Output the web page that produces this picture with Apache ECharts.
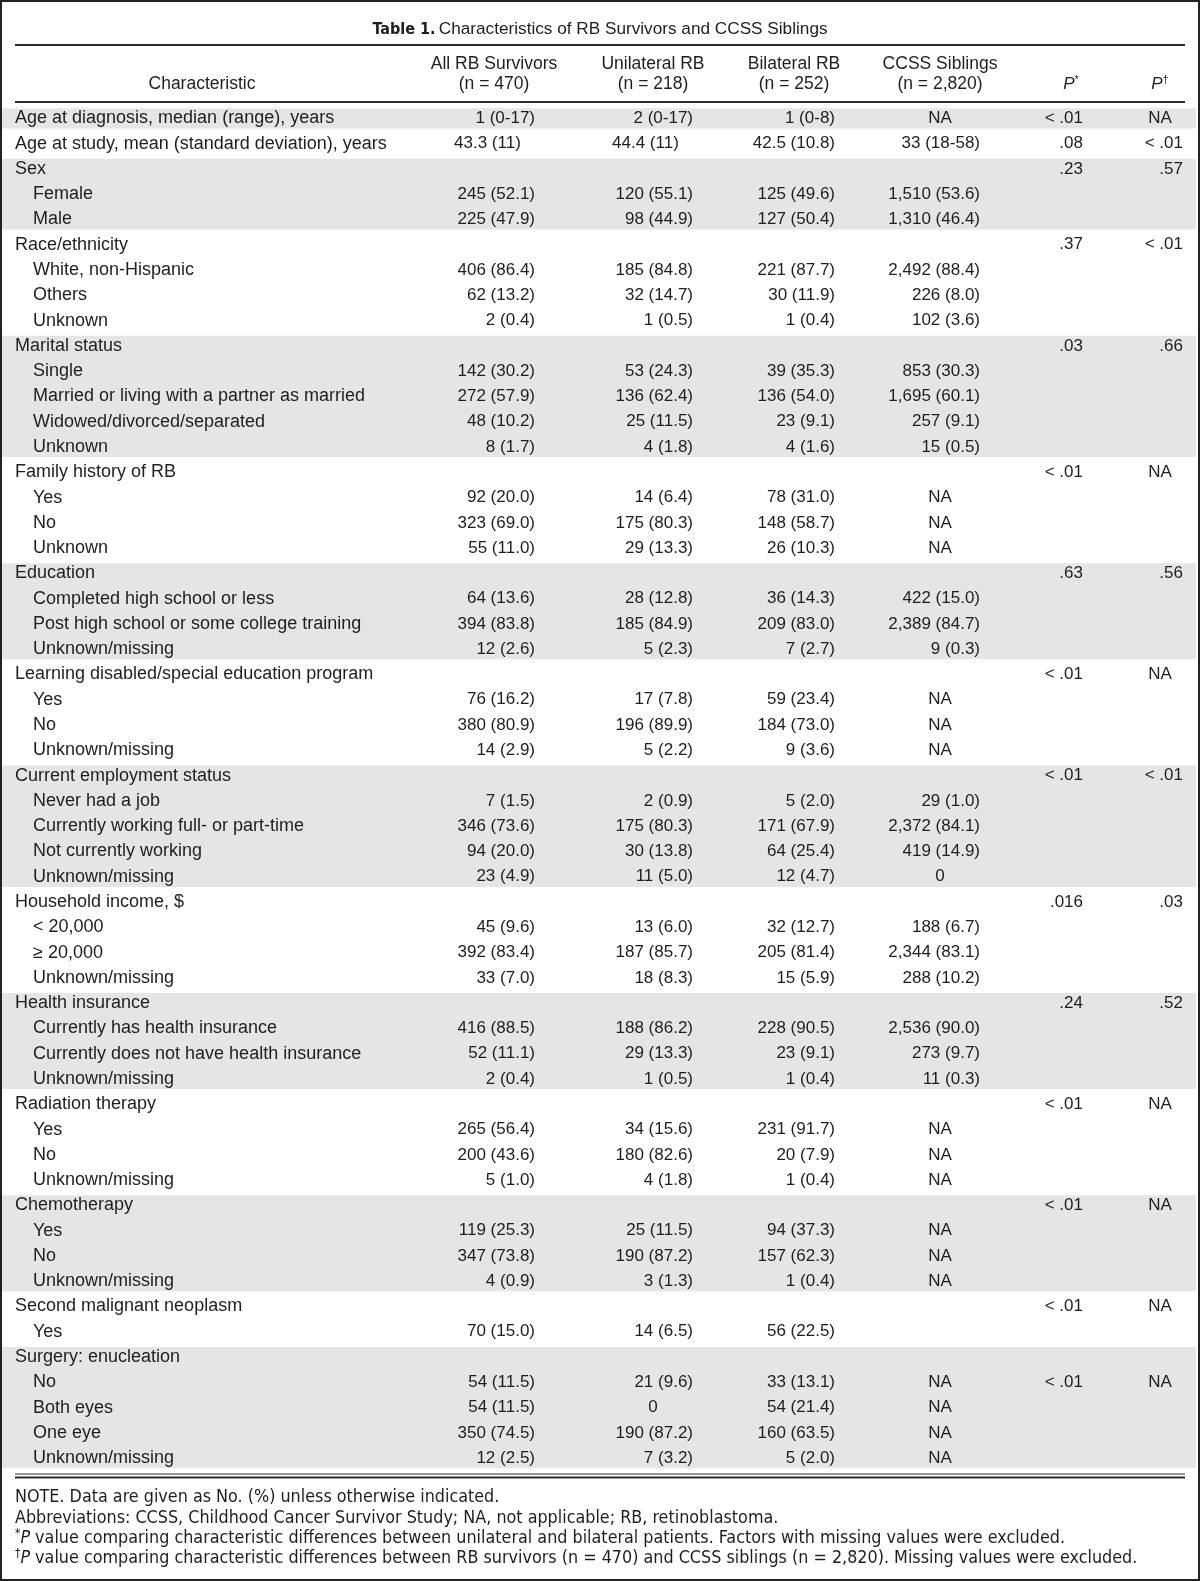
<!DOCTYPE html>
<html><head><meta charset="utf-8">
<script src="https://cdn.jsdelivr.net/npm/echarts@6/dist/echarts.min.js"></script>
<style>html,body{margin:0;padding:0;background:#fff}#chart{width:1200px;height:1581px}</style>
</head><body><div id="chart"></div>
<script>
// ---------------- DATA ----------------
const characteristics = [
"Age at diagnosis, median (range), years","Age at study, mean (standard deviation), years",
"Sex","Female","Male",
"Race/ethnicity","White, non-Hispanic","Others","Unknown",
"Marital status","Single","Married or living with a partner as married","Widowed/divorced/separated","Unknown",
"Family history of RB","Yes","No","Unknown",
"Education","Completed high school or less","Post high school or some college training","Unknown/missing",
"Learning disabled/special education program","Yes","No","Unknown/missing",
"Current employment status","Never had a job","Currently working full- or part-time","Not currently working","Unknown/missing",
"Household income, $","< 20,000","\u2265 20,000","Unknown/missing",
"Health insurance","Currently has health insurance","Currently does not have health insurance","Unknown/missing",
"Radiation therapy","Yes","No","Unknown/missing",
"Chemotherapy","Yes","No","Unknown/missing",
"Second malignant neoplasm","Yes",
"Surgery: enucleation","No","Both eyes","One eye","Unknown/missing"];
const rowLevel = [0,0, 0,1,1, 0,1,1,1, 0,1,1,1,1, 0,1,1,1, 0,1,1,1, 0,1,1,1, 0,1,1,1,1, 0,1,1,1, 0,1,1,1, 0,1,1,1, 0,1,1,1, 0,1, 0,1,1,1,1];
const allRB = ["1 (0-17)","43.3 (11)","","245 (52.1)","225 (47.9)","","406 (86.4)","62 (13.2)","2 (0.4)","","142 (30.2)","272 (57.9)","48 (10.2)","8 (1.7)","","92 (20.0)","323 (69.0)","55 (11.0)","","64 (13.6)","394 (83.8)","12 (2.6)","","76 (16.2)","380 (80.9)","14 (2.9)","","7 (1.5)","346 (73.6)","94 (20.0)","23 (4.9)","","45 (9.6)","392 (83.4)","33 (7.0)","","416 (88.5)","52 (11.1)","2 (0.4)","","265 (56.4)","200 (43.6)","5 (1.0)","","119 (25.3)","347 (73.8)","4 (0.9)","","70 (15.0)","","54 (11.5)","54 (11.5)","350 (74.5)","12 (2.5)"];
const unilateralRB = ["2 (0-17)","44.4 (11)","","120 (55.1)","98 (44.9)","","185 (84.8)","32 (14.7)","1 (0.5)","","53 (24.3)","136 (62.4)","25 (11.5)","4 (1.8)","","14 (6.4)","175 (80.3)","29 (13.3)","","28 (12.8)","185 (84.9)","5 (2.3)","","17 (7.8)","196 (89.9)","5 (2.2)","","2 (0.9)","175 (80.3)","30 (13.8)","11 (5.0)","","13 (6.0)","187 (85.7)","18 (8.3)","","188 (86.2)","29 (13.3)","1 (0.5)","","34 (15.6)","180 (82.6)","4 (1.8)","","25 (11.5)","190 (87.2)","3 (1.3)","","14 (6.5)","","21 (9.6)","0","190 (87.2)","7 (3.2)"];
const bilateralRB = ["1 (0-8)","42.5 (10.8)","","125 (49.6)","127 (50.4)","","221 (87.7)","30 (11.9)","1 (0.4)","","39 (35.3)","136 (54.0)","23 (9.1)","4 (1.6)","","78 (31.0)","148 (58.7)","26 (10.3)","","36 (14.3)","209 (83.0)","7 (2.7)","","59 (23.4)","184 (73.0)","9 (3.6)","","5 (2.0)","171 (67.9)","64 (25.4)","12 (4.7)","","32 (12.7)","205 (81.4)","15 (5.9)","","228 (90.5)","23 (9.1)","1 (0.4)","","231 (91.7)","20 (7.9)","1 (0.4)","","94 (37.3)","157 (62.3)","1 (0.4)","","56 (22.5)","","33 (13.1)","54 (21.4)","160 (63.5)","5 (2.0)"];
const ccssSiblings = ["NA","33 (18-58)","","1,510 (53.6)","1,310 (46.4)","","2,492 (88.4)","226 (8.0)","102 (3.6)","","853 (30.3)","1,695 (60.1)","257 (9.1)","15 (0.5)","","NA","NA","NA","","422 (15.0)","2,389 (84.7)","9 (0.3)","","NA","NA","NA","","29 (1.0)","2,372 (84.1)","419 (14.9)","0","","188 (6.7)","2,344 (83.1)","288 (10.2)","","2,536 (90.0)","273 (9.7)","11 (0.3)","","NA","NA","NA","","NA","NA","NA","","","","NA","NA","NA","NA"];
const pStar = ["< .01",".08",".23","","",".37","","","",".03","","","","","< .01","","","",".63","","","","< .01","","","","< .01","","","","",".016","","","",".24","","","","< .01","","","","< .01","","","","< .01","","","< .01","","",""];
const pDagger = ["NA","< .01",".57","","","< .01","","","",".66","","","","","NA","","","",".56","","","","NA","","","","< .01","","","","",".03","","","",".52","","","","NA","","","","NA","","","","NA","","","NA","","",""];
const columnHeaders = [["All RB Survivors","(n = 470)"],["Unilateral RB","(n = 218)"],["Bilateral RB","(n = 252)"],["CCSS Siblings","(n = 2,820)"]];
const titleText = "Characteristics of RB Survivors and CCSS Siblings";
const footnotes = [
 "NOTE. Data are given as No. (%) unless otherwise indicated.",
 "Abbreviations: CCSS, Childhood Cancer Survivor Study; NA, not applicable; RB, retinoblastoma.",
 " value comparing characteristic differences between unilateral and bilateral patients. Factors with missing values were excluded.",
 " value comparing characteristic differences between RB survivors (n = 470) and CCSS siblings (n = 2,820). Missing values were excluded."];

// ---------------- LAYOUT / STYLE ----------------
const FF = '"Liberation Sans", Arial, sans-serif';
const FS = 17, FS_LABEL = 18, FS_HEAD = 17.5;
const INK = '#1e1e1e';
const SHADE = '#e5e5e5';
const ROW_H = 25.28, TOP = 105.7;
const numCols = [
  {values: allRB, right: 535, center: 494},
  {values: unilateralRB, right: 693, center: 653},
  {values: bilateralRB, right: 835, center: 794},
  {values: ccssSiblings, right: 980, center: 940}
];
const pCols = [{values: pStar, right: 1083, center: 1071},{values: pDagger, right: 1183, center: 1160}];

const cv = document.createElement('canvas').getContext('2d');
cv.font = FS + 'px ' + FF;
const tailW = cv.measureText('.1)').width;

const cells = [];
characteristics.forEach((t, r) => cells.push({value:[rowLevel[r] ? 33 : 15, r], mode:'left', text:t, fs:FS_LABEL}));
numCols.forEach(col => col.values.forEach((t, r) => {
  if (!t) return;
  if (t === 'NA' || t === '0') { cells.push({value:[col.center, r], mode:'center', text:t}); return; }
  if (/\(\d+-\d+\)/.test(t)) { cells.push({value:[col.right, r], mode:'right', text:t}); return; }
  let m = t.match(/^(.*\(\d+)(\.\d+\))$/) || t.match(/^(.*\(\d+)(\))$/);
  if (m) cells.push({value:[col.right - tailW, r], mode:'split', left:m[1], right:m[2]});
  else cells.push({value:[col.right, r], mode:'right', text:t});
}));
pCols.forEach(col => col.values.forEach((t, r) => {
  if (!t) return;
  if (t === 'NA') cells.push({value:[col.center, r], mode:'center', text:t});
  else cells.push({value:[col.right, r], mode:'right', text:t});
}));

// shaded groups
const groups = [];
rowLevel.forEach((lv, r) => { if (lv === 0) groups.push([r, r]); else groups[groups.length-1][1] = r; });
const shadedGroups = groups.filter((g, i) => i % 2 === 0);

function txt(x, y, text, align, fs) {
  return {type:'text', x:x, y:y, style:{text:text, fill:INK, fontSize:fs || FS, fontFamily:FF,
    align:align, textAlign:align, verticalAlign:'middle', textVerticalAlign:'middle'}};
}

const graphics = [];
// border
graphics.push({type:'rect', shape:{x:1, y:1, width:1198, height:1579}, style:{fill:null, stroke:'#222', lineWidth:2}, z:10});
// title
graphics.push({type:'text', x:600, y:29.5, style:{text:'{b|Table 1.} {n|' + titleText + '}', align:'center', verticalAlign:'middle', textAlign:'center', textVerticalAlign:'middle',
  rich:{b:{fontFamily:'"DejaVu Sans Condensed", ' + FF, fontWeight:'bold', fontSize:16, fill:INK}, n:{fontFamily:FF, fontSize:17.2, fill:INK}}}});
// rules
function rule(y, w) { graphics.push({type:'line', shape:{x1:15, y1:y, x2:1185, y2:y}, style:{stroke:'#2a2a2a', lineWidth:w}}); }
rule(45, 2); rule(102, 2); rule(1474, 1.2); rule(1477.5, 2.2);
// header
graphics.push(txt(202, 84, 'Characteristic', 'center', FS_HEAD));
numCols.forEach((c, i) => {
  graphics.push(txt(c.center, 64, columnHeaders[i][0], 'center', FS_HEAD));
  graphics.push(txt(c.center, 84, columnHeaders[i][1], 'center', FS_HEAD));
});
['*', '\u2020'].forEach((s, i) => {
  graphics.push({type:'text', x:pCols[i].center, y:84, style:{text:'{i|P}{s|' + s + '}', align:'center', verticalAlign:'middle', textAlign:'center', textVerticalAlign:'middle',
    rich:{i:{fontStyle:'italic', fontFamily:FF, fontSize:FS, fill:INK, lineHeight:20, verticalAlign:'middle'}, s:{fontFamily:FF, fontSize:11, fill:INK, lineHeight:12, verticalAlign:'top'}}}});
});
// footnotes
const FN = {fontFamily:'"DejaVu Sans Condensed", ' + FF, fontSize:17.8, fill:INK, lineHeight:20, verticalAlign:'middle'};
const fnY = [1497.5, 1518, 1538, 1558];
const fnPrefix = ['', '', '{s|*}{i|P}', '{s|\u2020}{i|P}'];
footnotes.forEach((f, i) => {
  graphics.push({type:'text', x:15, y:fnY[i], style:{text: fnPrefix[i] + '{n|' + f + '}', align:'left', verticalAlign:'middle', textAlign:'left', textVerticalAlign:'middle',
    rich:{n:FN, i:Object.assign({}, FN, {fontStyle:'italic'}), s:Object.assign({}, FN, {fontSize:12, lineHeight:12, verticalAlign:'top'})}}});
});

// ---------------- CHART ----------------
const chart = echarts.init(document.getElementById('chart'), null, {renderer:'canvas'});
chart.setOption({
  animation:false,
  grid:{left:0, right:0, top:TOP, height:ROW_H * characteristics.length},
  xAxis:{type:'value', min:0, max:1200, show:false},
  yAxis:{type:'category', data:characteristics, inverse:true, show:false},
  graphic:graphics,
  series:[
    {type:'custom', z:1, silent:true, data:shadedGroups,
     renderItem:function(params, api){
       const p0 = api.coord([0, api.value(0)]), p1 = api.coord([0, api.value(1)]);
       const h = api.size([0, 1])[1];
       const inset = 2.5;
       return {type:'rect', shape:{x:2, y:p0[1] - h/2 + inset, width:1194, height:p1[1] - p0[1] + h - 2*inset}, style:{fill:SHADE}};
     }},
    {type:'custom', z:2, silent:true, data:cells,
     renderItem:function(params, api){
       const c = cells[params.dataIndex];
       const p = api.coord([api.value(0), api.value(1)]);
       if (c.mode === 'split') {
         return {type:'group', children:[txt(p[0], p[1], c.left, 'right'), txt(p[0], p[1], c.right, 'left')]};
       }
       const al = c.mode === 'center' ? 'center' : (c.mode === 'right' ? 'right' : 'left');
       return txt(p[0], p[1], c.text, al, c.fs);
     }}
  ]
});
</script></body></html>
